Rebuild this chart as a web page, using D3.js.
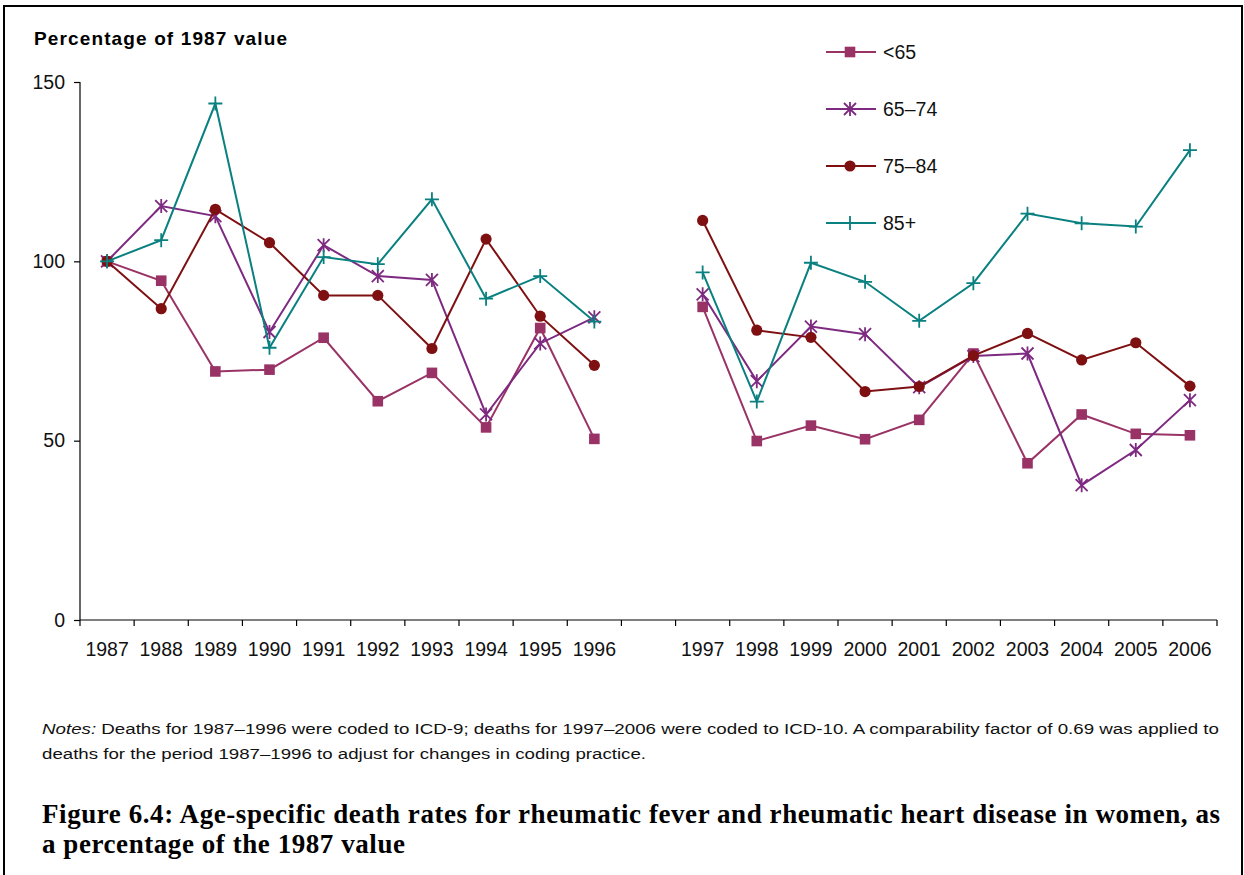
<!DOCTYPE html>
<html>
<head>
<meta charset="utf-8">
<script src="https://cdn.jsdelivr.net/npm/d3@7"></script>
<style>
  html, body { margin: 0; padding: 0; background: #fff; }
  svg { display: block; }
</style>
</head>
<body>
<svg id="chart" width="1244" height="875"></svg>
<script>
// Years on the category axis; an empty slot separates the ICD-9 and ICD-10 periods
const categories = ["1987","1988","1989","1990","1991","1992","1993","1994","1995","1996",
                    "gap",
                    "1997","1998","1999","2000","2001","2002","2003","2004","2005","2006"];
const tickLabels = ["1987","1988","1989","1990","1991","1992","1993","1994","1995","1996",
                    "",
                    "1997","1998","1999","2000","2001","2002","2003","2004","2005","2006"];
const yTicks = [0, 50, 100, 150];

// Percentage of the 1987 value, by age group (null = gap between coding periods)
const under65 = [100, 94.6, 69.3, 69.8, 78.7, 61.0, 68.9, 53.7, 81.4, 50.5, null,
                 87.3, 49.9, 54.2, 50.4, 55.8, 74.3, 43.7, 57.3, 51.9, 51.5];
const age65to74 = [100, 115.4, 112.6, 80.3, 104.5, 95.9, 94.8, 57.3, 77.1, 84.4, null,
                   90.8, 66.6, 81.8, 79.7, 64.9, 73.6, 74.3, 37.6, 47.4, 61.3];
const age75to84 = [100, 86.8, 114.5, 105.2, 90.5, 90.5, 75.7, 106.2, 84.7, 71.0, null,
                   111.4, 80.8, 78.8, 63.7, 65.1, 73.7, 79.9, 72.5, 77.3, 65.2];
const age85plus = [100, 105.9, 144.0, 75.9, 101.2, 99.2, 117.3, 89.6, 95.9, 83.2, null,
                   96.9, 60.9, 99.6, 94.3, 83.4, 93.9, 113.3, 110.6, 109.7, 131.0];

const seriesNames = ["<65", "65\u201374", "75\u201384", "85+"];
const seriesValues = [under65, age65to74, age75to84, age85plus];
const seriesColors = ["#993366", "#7d2a80", "#7f1012", "#0a8080"];
const seriesMarkers = ["square", "asterisk", "circle", "plus"];

const svg = d3.select("#chart");
const font = "'Liberation Sans', Arial, sans-serif";

// Frame around the figure (open at the bottom)
svg.append("path")
  .attr("d", "M4,875 V6 H1242 V875")
  .attr("fill", "none").attr("stroke", "#000").attr("stroke-width", 2);

const plot = { left: 80, right: 1217, top: 82, bottom: 620 };

const x = d3.scaleBand().domain(categories).range([plot.left, plot.right]).padding(0);
const y = d3.scaleLinear().domain([0, 150]).range([plot.bottom, plot.top]);

// Y axis
const yAxis = svg.append("g")
  .attr("transform", `translate(${plot.left},0)`)
  .call(d3.axisLeft(y).tickValues(yTicks).tickSize(6).tickPadding(9).tickFormat(d3.format("d")));
yAxis.select(".domain").attr("stroke", "#000").attr("stroke-width", 1.2)
  .attr("d", `M0,${plot.top}V${plot.bottom}`);
yAxis.selectAll(".tick line").attr("stroke", "#000").attr("stroke-width", 1.2);
yAxis.selectAll(".tick text").attr("font-family", font).attr("font-size", 19.5).attr("fill", "#111");

// X axis: labels centred in each band, ticks on the band boundaries
const xAxis = svg.append("g")
  .attr("transform", `translate(0,${plot.bottom})`)
  .call(d3.axisBottom(x).tickSize(0).tickPadding(22).tickFormat((d, i) => tickLabels[i]));
xAxis.select(".domain").attr("stroke", "#000").attr("stroke-width", 1.2)
  .attr("d", `M${plot.left},0H${plot.right}`);
xAxis.selectAll(".tick text").attr("font-family", font).attr("font-size", 19.5).attr("fill", "#111");

const boundaries = categories.map(c => x(c)).concat([x(categories[categories.length - 1]) + x.bandwidth()]);
svg.append("g").selectAll("line").data(boundaries).join("line")
  .attr("x1", d => d).attr("x2", d => d)
  .attr("y1", plot.bottom).attr("y2", plot.bottom + 6)
  .attr("stroke", "#000").attr("stroke-width", 1.2);

// Y axis title
svg.append("text")
  .attr("x", 34).attr("y", 45)
  .attr("font-family", font).attr("font-weight", "bold").attr("font-size", 19)
  .attr("textLength", 253).attr("lengthAdjust", "spacing")
  .attr("fill", "#000")
  .text("Percentage of 1987 value");

// Marker drawing
function drawMarker(g, type, color) {
  if (type === "square") {
    g.append("rect").attr("x", -5.3).attr("y", -5.3).attr("width", 10.6).attr("height", 10.6)
      .attr("fill", color);
  } else if (type === "circle") {
    g.append("circle").attr("r", 5.6).attr("fill", color);
  } else if (type === "asterisk") {
    g.append("path").attr("d", "M-6,-6L6,6M-6,6L6,-6M0,-7V7")
      .attr("stroke", color).attr("stroke-width", 1.8).attr("fill", "none");
  } else if (type === "plus") {
    g.append("path").attr("d", "M-7,0H7M0,-7V7")
      .attr("stroke", color).attr("stroke-width", 1.8).attr("fill", "none");
  }
}

const line = d3.line()
  .defined(d => d.v != null)
  .x(d => x(d.c) + x.bandwidth() / 2)
  .y(d => y(d.v));

seriesValues.forEach((vals, si) => {
  const pts = categories.map((c, i) => ({ c, v: vals[i] }));
  const g = svg.append("g");
  g.append("path").datum(pts)
    .attr("d", line)
    .attr("fill", "none")
    .attr("stroke", seriesColors[si])
    .attr("stroke-width", 2);
  g.selectAll("g.mk").data(pts.filter(d => d.v != null)).join("g")
    .attr("class", "mk")
    .attr("transform", d => `translate(${x(d.c) + x.bandwidth() / 2},${y(d.v)})`)
    .each(function () { drawMarker(d3.select(this), seriesMarkers[si], seriesColors[si]); });
});

// Legend
const legendY = [52, 109, 166, 223];
seriesNames.forEach((name, i) => {
  const g = svg.append("g").attr("transform", `translate(826,${legendY[i]})`);
  g.append("line").attr("x1", 0).attr("x2", 50).attr("y1", 0).attr("y2", 0)
    .attr("stroke", seriesColors[i]).attr("stroke-width", 2);
  drawMarker(g.append("g").attr("transform", "translate(24,0)"), seriesMarkers[i], seriesColors[i]);
  g.append("text").attr("x", 57).attr("y", 0).attr("dy", "0.35em")
    .attr("font-family", font).attr("font-size", 19.5).attr("fill", "#111")
    .text(name);
});

// Notes
const notes1 = svg.append("text")
  .attr("x", 42).attr("y", 734)
  .attr("font-family", font).attr("font-size", 15.5).attr("fill", "#111")
  .attr("textLength", 1177).attr("lengthAdjust", "spacingAndGlyphs");
notes1.append("tspan").attr("font-style", "italic").text("Notes:");
notes1.append("tspan").text(" Deaths for 1987\u20131996 were coded to ICD-9; deaths for 1997\u20132006 were coded to ICD-10. A comparability factor of 0.69 was applied to");
svg.append("text")
  .attr("x", 42).attr("y", 759)
  .attr("font-family", font).attr("font-size", 15.5).attr("fill", "#111")
  .attr("textLength", 604).attr("lengthAdjust", "spacingAndGlyphs")
  .text("deaths for the period 1987\u20131996 to adjust for changes in coding practice.");

// Figure caption, sized so the first line spans the text block
const serif = "'Liberation Serif', 'DejaVu Serif', serif";
const cap1 = svg.append("text")
  .attr("x", 42).attr("y", 823)
  .attr("font-family", serif).attr("font-weight", "bold").attr("font-size", 24)
  .attr("fill", "#000")
  .text("Figure 6.4: Age-specific death rates for rheumatic fever and rheumatic heart disease in women, as");
const w1 = cap1.node().getComputedTextLength();
const capSize = Math.min(27, 24 * 1178 / w1);
cap1.attr("font-size", capSize).attr("textLength", 1178).attr("lengthAdjust", "spacing");
svg.append("text")
  .attr("x", 42).attr("y", 853)
  .attr("font-family", serif).attr("font-weight", "bold").attr("font-size", capSize)
  .attr("textLength", 363).attr("lengthAdjust", "spacing")
  .attr("fill", "#000")
  .text("a percentage of the 1987 value");
</script>
</body>
</html>
